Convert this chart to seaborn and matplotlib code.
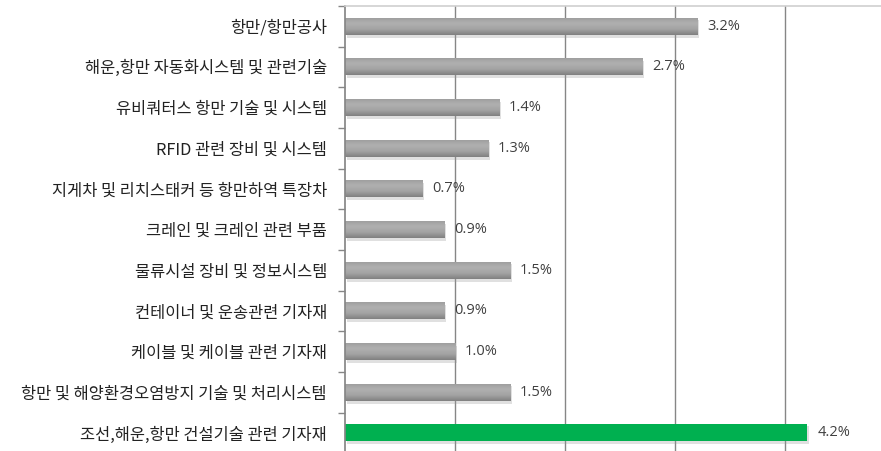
import numpy as np
import pandas as pd
import seaborn as sns
from matplotlib import pyplot as plt
from matplotlib import patheffects as pe
from matplotlib.colors import LinearSegmentedColormap

categories = [
    '항만/항만공사',
    '해운,항만 자동화시스템 및 관련기술',
    '유비쿼터스 항만 기술 및 시스템',
    'RFID 관련 장비 및 시스템',
    '지게차 및 리치스태커 등 항만하역 특장차',
    '크레인 및 크레인 관련 부품',
    '물류시설 장비 및 정보시스템',
    '컨테이너 및 운송관련 기자재',
    '케이블 및 케이블 관련 기자재',
    '항만 및 해양환경오염방지 기술 및 처리시스템',
    '조선,해운,항만 건설기술 관련 기자재',
]
values = [3.2, 2.7, 1.4, 1.3, 0.7, 0.9, 1.5, 0.9, 1.0, 1.5, 4.2]
highlight = '조선,해운,항만 건설기술 관련 기자재'

sns.set_theme(style='white')
plt.rcParams['font.family'] = ['Noto Sans CJK KR', 'DejaVu Sans']

df = pd.DataFrame({'category': categories, 'value': values})
palette = {c: ('#00B050' if c == highlight else '#9a9a9a') for c in categories}

fig = plt.figure(figsize=(8.81, 4.51), dpi=100)
ax = fig.add_axes([0.3916, -0.005, 0.6084, 0.992])

sns.barplot(data=df, x='value', y='category', hue='category', palette=palette,
            order=categories, width=0.42, legend=False, ax=ax, saturation=1,
            linewidth=0, edgecolor='none')

# gray bars get a soft vertical gradient and a drop shadow
grad = LinearSegmentedColormap.from_list('g', ['#9c9c9c', '#b0b0b0', '#a4a4a4', '#808080'])
for patch, cat in zip(ax.patches, categories):
    patch.set_linewidth(0)
    if cat == highlight:
        patch.set_path_effects([pe.SimplePatchShadow(offset=(1.5, -1.5), shadow_rgbFace='#999999', alpha=0.3), pe.Normal()])
        continue
    x0, y0 = patch.get_x(), patch.get_y()
    w, h = patch.get_width(), patch.get_height()
    patch.set_path_effects([pe.SimplePatchShadow(offset=(1.5, -2), shadow_rgbFace='#999999', alpha=0.3), pe.Normal()])
    img = ax.imshow(np.linspace(0, 1, 64).reshape(-1, 1), cmap=grad, aspect='auto',
                    extent=(x0, x0 + w, y0 + h, y0), zorder=patch.get_zorder() + 0.1,
                    interpolation='bicubic')
    img.set_clip_path(patch)

for i, v in enumerate(values):
    ax.text(v + 0.09, i, f'{v:.1f}%', va='center', ha='left', fontsize=10.5,
            color='#404040', family=['Open Sans', 'DejaVu Sans'])

ax.set_xlim(0, 4.87)
ax.set_ylim(len(categories) - 0.5, -0.5)
ax.set_xticks([1, 2, 3, 4])
ax.xaxis.grid(True, color='#868686', linewidth=1)
ax.set_axisbelow(True)
ax.tick_params(axis='x', bottom=False, labelbottom=False)
ax.set_xlabel('')
ax.set_ylabel('')

ax.set_yticks(range(len(categories)))
ax.set_yticklabels(categories, fontsize=11.8, color='#222222')
ax.set_yticks(np.arange(-0.5, len(categories), 1), minor=True)
ax.tick_params(axis='y', which='major', length=0, pad=13)
ax.tick_params(axis='y', which='minor', left=True, length=5, width=1, color='#868686')

for side in ['right', 'bottom']:
    ax.spines[side].set_visible(False)
ax.spines['left'].set_color('#868686')
ax.spines['top'].set_color('#cfcfcf')
ax.spines['top'].set_linewidth(1.2)

fig.savefig('out.png', dpi=100)
